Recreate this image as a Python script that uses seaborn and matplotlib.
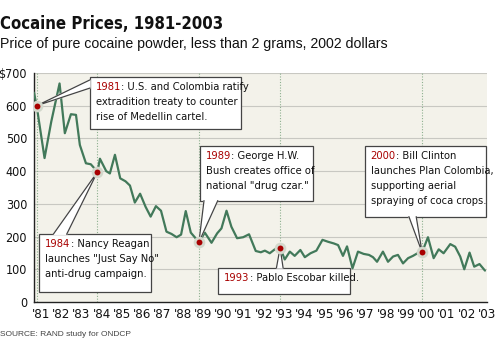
import numpy as np
import matplotlib.pyplot as plt
import seaborn as sns

sns.set_style("white")
plt.rcParams["font.family"] = ["DejaVu Sans"]
plt.rcParams["font.stretch"] = "condensed"

# price of pure cocaine, < 2 grams, 2002 dollars
YEARS = [1980.87, 1981.0, 1981.39, 1981.72, 1982.13, 1982.39, 1982.69, 1982.94,
         1983.13, 1983.43, 1983.67, 1984.0, 1984.12, 1984.43, 1984.61, 1984.86,
         1985.12, 1985.38, 1985.6, 1985.84, 1986.1, 1986.37, 1986.62, 1986.88,
         1987.13, 1987.4, 1987.65, 1987.9, 1988.12, 1988.35, 1988.6, 1989.0,
         1989.29, 1989.62, 1989.9, 1990.11, 1990.36, 1990.6, 1990.88, 1991.18,
         1991.47, 1991.8, 1992.05, 1992.25, 1992.49, 1992.74, 1993.0, 1993.23,
         1993.48, 1993.72, 1994.0, 1994.22, 1994.5, 1994.79, 1995.09, 1995.37,
         1995.65, 1995.86, 1996.1, 1996.3, 1996.57, 1996.84, 1997.12, 1997.38,
         1997.58, 1997.78, 1998.07, 1998.32, 1998.57, 1998.81, 1999.06, 1999.31,
         1999.55, 1999.8, 2000.0, 2000.29, 2000.57, 2000.82, 2001.06, 2001.39,
         2001.63, 2001.88, 2002.08, 2002.34, 2002.57, 2002.83, 2003.1]
PRICES = [640, 600, 440, 551, 668, 516, 574, 572,
          480, 424, 421, 398, 438, 400, 393, 450,
          378, 369, 356, 304, 331, 291, 261, 293,
          279, 215, 208, 198, 206, 278, 212, 183,
          212, 181, 210, 225, 279, 230, 195, 198,
          207, 156, 152, 157, 149, 161, 166, 130,
          154, 141, 159, 137, 149, 157, 190, 184,
          179, 174, 141, 170, 103, 154, 147, 144,
          137, 123, 154, 123, 139, 144, 118, 134,
          141, 150, 152, 198, 134, 161, 149, 177,
          169, 139, 100, 151, 108, 116, 96]

EVENT_YEARS = [1981, 1984, 1989, 1993, 2000]
EVENT_LINES = [
    ["U.S. and Colombia ratify", "extradition treaty to counter", "rise of Medellin cartel."],
    ["Nancy Reagan", "launches \"Just Say No\"", "anti-drug campaign."],
    ["George H.W.", "Bush creates office of", "national \"drug czar.\""],
    ["Pablo Escobar killed."],
    ["Bill Clinton", "launches Plan Colombia,", "supporting aerial", "spraying of coca crops."],
]

TICK_YEARS = list(range(1981, 2004))
TICK_LABELS = ["'%02d" % (y % 100) for y in TICK_YEARS]
Y_TICKS = [0, 100, 200, 300, 400, 500, 600, 700]
Y_LABELS = ["0", "100", "200", "300", "400", "500", "600", "$700"]

# callout layout: box (x0, x1, y_bottom, y_top) and wedge base points, data units
BOXES = [
    (1983.63, 1991.05, 529, 689, [(1983.63, 679), (1983.63, 654)]),
    (1981.13, 1986.62, 31, 207, [(1981.82, 207), (1982.48, 207)]),
    (1989.04, 1994.63, 310, 478, [(1989.25, 310), (1989.93, 310)]),
    (1989.95, 1996.43, 24, 104, [(1992.82, 104), (1993.15, 104)]),
    (1997.17, 2003.17, 261, 478, [(1999.35, 261), (1999.71, 261)]),
]

LINE_COLOR = "#42795a"
RED = "#a80000"
BG = "#f3f2ea"
FS = 8

fig = plt.figure(figsize=(5, 3.52), dpi=100)
ax = fig.add_axes([34 / 500, 1 - 302 / 352, (487 - 34) / 500, (302 - 73) / 352])
ax.set_facecolor(BG)

for v in Y_TICKS[1:]:
    ax.axhline(v, color="#c8c8c2", lw=0.8, zorder=1)
for yr in EVENT_YEARS:
    ax.axvline(yr, color="#8db08f", lw=0.8, ls=(0, (1, 1.5)), zorder=1)

sns.lineplot(x=YEARS, y=PRICES, ax=ax, color=LINE_COLOR, lw=1.6, zorder=3)

ax.set_xlim(1980.87, 2003.18)
ax.set_ylim(0, 700)
ax.set_xticks(TICK_YEARS)
ax.set_xticklabels([])
ax.set_xticks([y + 0.2 for y in TICK_YEARS], minor=True)
ax.set_xticklabels(TICK_LABELS, minor=True, fontsize=9.5, color="#111")
ax.tick_params(axis="x", which="major", direction="in", length=4, width=0.9, color="#222")
ax.tick_params(axis="x", which="minor", length=0, pad=4)
ax.set_yticks(Y_TICKS)
ax.set_yticklabels(Y_LABELS, fontsize=9, color="#111")
ax.tick_params(axis="y", direction="inout", length=4, width=0.9, color="#222", pad=3)
for s in ["top", "right"]:
    ax.spines[s].set_visible(False)
for s in ["left", "bottom"]:
    ax.spines[s].set_color("#222")
    ax.spines[s].set_linewidth(1.0)

years = np.array(YEARS)
prices = np.array(PRICES)
for yr, lines, (x0, x1, yb, yt, base) in zip(EVENT_YEARS, EVENT_LINES, BOXES):
    val = prices[np.argmin(np.abs(years - yr))]
    ax.add_patch(plt.Rectangle((x0, yb), x1 - x0, yt - yb, fc="white", ec="#444",
                               lw=0.9, zorder=5, clip_on=False))
    (bx1, by1), (bx2, by2) = base
    ax.fill([bx1, bx2, yr], [by1, by2, val], color="white", zorder=6, clip_on=False)
    ax.plot([bx1, yr, bx2], [by1, val, by2], color="#444", lw=0.9, zorder=6,
            solid_joinstyle="miter")
    t = ax.annotate(str(yr), xy=(x0, yt), xytext=(6, -5), textcoords="offset pixels",
                    va="top", ha="left", fontsize=FS, color=RED, zorder=7)
    ax.annotate(": " + lines[0], xy=(1, 0), xycoords=t, va="bottom", ha="left",
                fontsize=FS, color="#111", zorder=7)
    for i, line in enumerate(lines[1:]):
        ax.annotate(line, xy=(x0, yt), xytext=(6, -5 - 15 * (i + 1)),
                    textcoords="offset pixels", va="top", ha="left",
                    fontsize=FS, color="#111", zorder=7)
    ax.scatter([yr], [val], s=70, color="#d3d8cc", zorder=8, lw=0)
    ax.scatter([yr], [val], s=18, color=RED, zorder=9, lw=0)

fig.text(0.0, 1 - 15 / 352, "Cocaine Prices, 1981-2003", fontsize=12,
         fontweight="bold", va="top", ha="left", color="#111")
fig.text(0.0, 1 - 37 / 352, "Price of pure cocaine powder, less than 2 grams, 2002 dollars",
         fontsize=10.2, va="top", ha="left", color="#111",
         family=["Liberation Sans", "DejaVu Sans"], stretch="normal")
fig.text(0.0, 1 - 331 / 352, "SOURCE: RAND study for ONDCP", fontsize=6,
         va="top", ha="left", color="#444", family=["Liberation Sans", "DejaVu Sans"],
         stretch="normal")

fig.savefig("out.png", dpi=100, facecolor="white")
